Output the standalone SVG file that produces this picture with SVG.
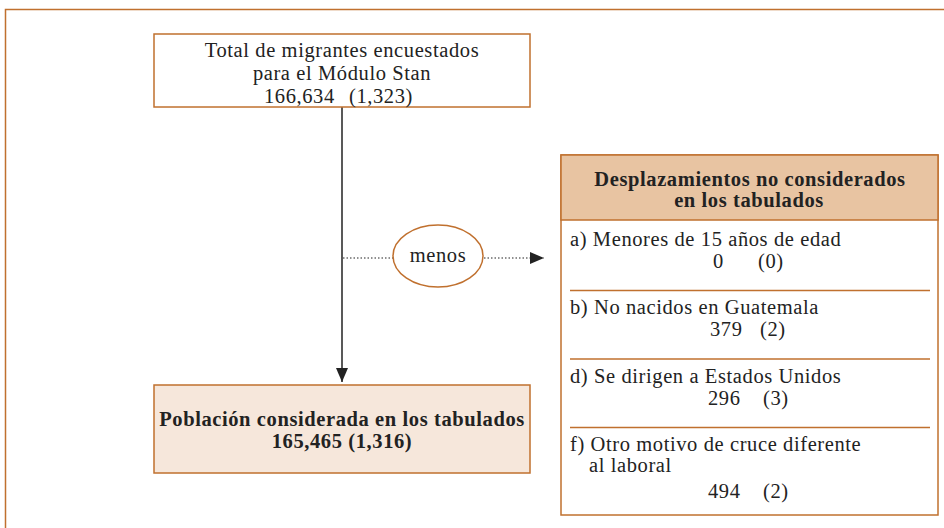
<svg xmlns="http://www.w3.org/2000/svg" width="944" height="528" viewBox="0 0 944 528">
<defs>
<style>
.box{fill:#fff;stroke:#c0702e;stroke-width:1.5}
.t{font-family:"Liberation Serif","Times New Roman",serif;font-size:20.5px;letter-spacing:0.6px;fill:#222}
.c{text-anchor:middle}
.b{font-weight:bold}
.div{stroke:#c0702e;stroke-width:1.5}
</style>
<marker id="ah2" viewBox="0 0 14 12" refX="14" refY="6" markerWidth="14" markerHeight="12" markerUnits="userSpaceOnUse" orient="auto">
<path d="M0,0 L14,6 L0,12 z" fill="#222"/>
</marker>
</defs>
<rect width="944" height="528" fill="#fff"/>
<path d="M5.5,528 V9.5 H944" fill="none" stroke="#c0702e" stroke-width="1.5"/>
<g id="connectors">
<line x1="342" y1="107" x2="342" y2="382" stroke="#222" stroke-width="1.5" marker-end="url(#ah2)"/>
<line x1="343" y1="258" x2="393" y2="258" stroke="#222" stroke-width="1.2" stroke-dasharray="1.5 2"/>
<line x1="484" y1="258" x2="544" y2="258" stroke="#222" stroke-width="1.2" stroke-dasharray="1.5 2" marker-end="url(#ah2)"/>
</g>
<g id="total">
<rect class="box" x="154" y="34" width="376" height="73"/>
<text class="t c" x="342" y="57">Total de migrantes encuestados</text>
<text class="t c" x="342" y="80">para el Módulo Stan</text>
<text class="t" y="103"><tspan x="264">166,634</tspan><tspan x="349">(1,323)</tspan></text>
</g>
<g id="menos">
<ellipse cx="438" cy="256" rx="45" ry="31" fill="#fff" stroke="#c0702e" stroke-width="1.5"/>
<text class="t c" x="438" y="262">menos</text>
</g>
<g id="poblacion">
<rect class="box" x="154" y="385" width="376" height="88" style="fill:#f6e7db"/>
<text class="t c b" x="342" y="426">Población considerada en los tabulados</text>
<text class="t c b" x="342" y="448">165,465 (1,316)</text>
</g>
<g id="desplazamientos">
<rect class="box" x="561" y="155" width="377" height="360"/>
<rect x="561" y="155" width="377" height="65" fill="#e8c4a2" stroke="#c0702e" stroke-width="1.5"/>
<text class="t c b" x="750" y="186">Desplazamientos no considerados</text>
<text class="t c b" x="749" y="207">en los tabulados</text>
<text class="t" x="570" y="246">a) Menores de 15 años de edad</text>
<text class="t" y="268"><tspan x="713">0</tspan><tspan x="758">(0)</tspan></text>
<line class="div" x1="570" y1="290.5" x2="930" y2="290.5"/>
<text class="t" x="570" y="314">b) No nacidos en Guatemala</text>
<text class="t" y="336"><tspan x="710">379</tspan><tspan x="760">(2)</tspan></text>
<line class="div" x1="570" y1="359" x2="930" y2="359"/>
<text class="t" x="570" y="383">d) Se dirigen a Estados Unidos</text>
<text class="t" y="405"><tspan x="708">296</tspan><tspan x="763">(3)</tspan></text>
<line class="div" x1="570" y1="427.5" x2="930" y2="427.5"/>
<text class="t" x="570" y="451">f) Otro motivo de cruce diferente</text>
<text class="t" x="589" y="472">al laboral</text>
<text class="t" y="498"><tspan x="708">494</tspan><tspan x="763">(2)</tspan></text>
</g>
</svg>
